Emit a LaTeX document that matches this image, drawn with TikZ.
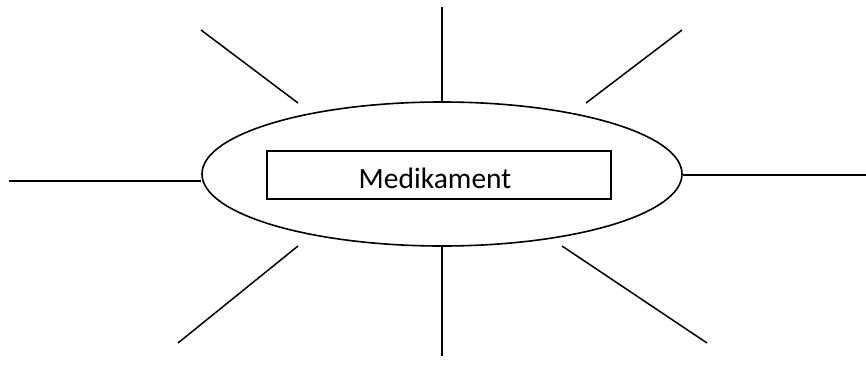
\documentclass[tikz,border=0pt]{standalone}
\usepackage{fontspec}
\setmainfont{Carlito}
\usetikzlibrary{shapes.geometric}
\begin{document}
\begin{tikzpicture}[x=1pt,y=-1pt,line width=1.6pt,
  ray/.style={draw=black,line width=1.5pt}]
\useasboundingbox (0,0) rectangle (866,367);
\node[draw,ellipse,minimum width=480,minimum height=144,inner sep=0,line width=1.6pt] (ell) at (442,174) {};
\node[draw,rectangle,minimum width=344,minimum height=48,inner sep=0,line width=1.6pt] (box) at (439,175) {};
\node[font=\fontsize{29.5}{34}\selectfont,anchor=base,inner sep=0] (txt) at (435,188) {Medikament};
% ray end points
\coordinate (t1) at (442,7);
\coordinate (t1a) at (442,102);
\coordinate (tl) at (201,30);
\coordinate (tla) at (298,103);
\coordinate (tr) at (682,30);
\coordinate (tra) at (586,103);
\coordinate (l) at (9,181);
\coordinate (la) at (ell.west |- 0,181);
\coordinate (r) at (866,175);
\coordinate (ra) at (ell.east |- 0,175);
\coordinate (bl) at (178,343);
\coordinate (bla) at (298,246);
\coordinate (b) at (442,356);
\coordinate (ba) at (442,246);
\coordinate (br) at (707,343);
\coordinate (bra) at (562,246);
\draw[ray] (t1a) -- (t1);
\draw[ray] (tla) -- (tl);
\draw[ray] (tra) -- (tr);
\draw[ray] (la) -- (l);
\draw[ray] (ra) -- (r);
\draw[ray] (bla) -- (bl);
\draw[ray] (ba) -- (b);
\draw[ray] (bra) -- (br);
\end{tikzpicture}
\end{document}
